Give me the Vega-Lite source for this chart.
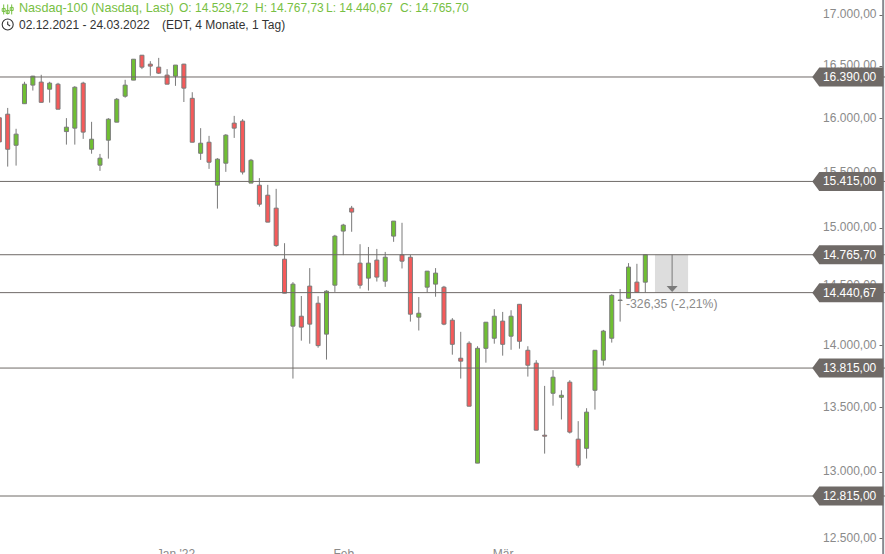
{"$schema":"https://vega.github.io/schema/vega-lite/v6.json","width":885,"height":554,"padding":0,"autosize":{"type":"none"},"background":"#ffffff","config":{"view":{"stroke":null},"text":{"font":"Liberation Sans"},"axis":{"labelFont":"Liberation Sans"}},
"datasets":{"candles":[
{"i":0,"date":"2021-12-02","o":16002,"h":16002,"l":15777,"c":15777},
{"i":1,"date":"2021-12-03","o":16036,"h":16095,"l":15550,"c":15709},
{"i":2,"date":"2021-12-06","o":15746,"h":15899,"l":15559,"c":15849},
{"i":3,"date":"2021-12-07","o":16135,"h":16344,"l":16135,"c":16321},
{"i":4,"date":"2021-12-08","o":16312,"h":16401,"l":16260,"c":16398},
{"i":5,"date":"2021-12-09","o":16341,"h":16411,"l":16148,"c":16148},
{"i":6,"date":"2021-12-10","o":16273,"h":16344,"l":16145,"c":16331},
{"i":7,"date":"2021-12-13","o":16321,"h":16334,"l":16083,"c":16083},
{"i":8,"date":"2021-12-14","o":15873,"h":15999,"l":15752,"c":15914},
{"i":9,"date":"2021-12-15","o":15905,"h":16302,"l":15752,"c":16292},
{"i":10,"date":"2021-12-16","o":16331,"h":16344,"l":15805,"c":15868},
{"i":11,"date":"2021-12-17","o":15709,"h":15964,"l":15668,"c":15802},
{"i":12,"date":"2021-12-20","o":15563,"h":15666,"l":15511,"c":15627},
{"i":13,"date":"2021-12-21","o":15793,"h":15999,"l":15623,"c":15989},
{"i":14,"date":"2021-12-22","o":15961,"h":16189,"l":15961,"c":16177},
{"i":15,"date":"2021-12-23","o":16206,"h":16363,"l":16192,"c":16312},
{"i":16,"date":"2021-12-27","o":16360,"h":16562,"l":16360,"c":16562},
{"i":17,"date":"2021-12-28","o":16601,"h":16601,"l":16466,"c":16485},
{"i":18,"date":"2021-12-29","o":16514,"h":16543,"l":16401,"c":16495},
{"i":19,"date":"2021-12-30","o":16485,"h":16575,"l":16420,"c":16427},
{"i":20,"date":"2021-12-31","o":16408,"h":16466,"l":16321,"c":16321},
{"i":21,"date":"2022-01-03","o":16398,"h":16505,"l":16305,"c":16505},
{"i":22,"date":"2022-01-04","o":16514,"h":16517,"l":16151,"c":16283},
{"i":23,"date":"2022-01-05","o":16186,"h":16244,"l":15774,"c":15774},
{"i":24,"date":"2022-01-06","o":15672,"h":15905,"l":15611,"c":15765},
{"i":25,"date":"2022-01-07","o":15774,"h":15833,"l":15529,"c":15590},
{"i":26,"date":"2022-01-10","o":15381,"h":15627,"l":15171,"c":15618},
{"i":27,"date":"2022-01-11","o":15581,"h":15849,"l":15502,"c":15840},
{"i":28,"date":"2022-01-12","o":15952,"h":16020,"l":15814,"c":15905},
{"i":29,"date":"2022-01-13","o":15971,"h":15989,"l":15478,"c":15500},
{"i":30,"date":"2022-01-14","o":15400,"h":15620,"l":15400,"c":15608},
{"i":31,"date":"2022-01-18","o":15381,"h":15445,"l":15189,"c":15210},
{"i":32,"date":"2022-01-19","o":15291,"h":15384,"l":15051,"c":15051},
{"i":33,"date":"2022-01-20","o":15175,"h":15348,"l":14834,"c":14845},
{"i":34,"date":"2022-01-21","o":14727,"h":14866,"l":14436,"c":14436},
{"i":35,"date":"2022-01-24","o":14159,"h":14530,"l":13730,"c":14513},
{"i":36,"date":"2022-01-25","o":14242,"h":14412,"l":14039,"c":14151},
{"i":37,"date":"2022-01-26","o":14496,"h":14650,"l":14014,"c":14176},
{"i":38,"date":"2022-01-27","o":14351,"h":14410,"l":13981,"c":13998},
{"i":39,"date":"2022-01-28","o":14093,"h":14461,"l":13884,"c":14453},
{"i":40,"date":"2022-01-31","o":14504,"h":14939,"l":14447,"c":14928},
{"i":41,"date":"2022-02-01","o":14972,"h":15036,"l":14762,"c":15025},
{"i":42,"date":"2022-02-02","o":15175,"h":15195,"l":14966,"c":15140},
{"i":43,"date":"2022-02-03","o":14693,"h":14857,"l":14475,"c":14504},
{"i":44,"date":"2022-02-04","o":14564,"h":14833,"l":14458,"c":14693},
{"i":45,"date":"2022-02-07","o":14719,"h":14816,"l":14535,"c":14573},
{"i":46,"date":"2022-02-08","o":14538,"h":14790,"l":14490,"c":14744},
{"i":47,"date":"2022-02-09","o":14928,"h":15060,"l":14878,"c":15060},
{"i":48,"date":"2022-02-10","o":14764,"h":15045,"l":14647,"c":14710},
{"i":49,"date":"2022-02-11","o":14744,"h":14764,"l":14197,"c":14259},
{"i":50,"date":"2022-02-14","o":14234,"h":14403,"l":14123,"c":14267},
{"i":51,"date":"2022-02-15","o":14487,"h":14624,"l":14444,"c":14624},
{"i":52,"date":"2022-02-16","o":14513,"h":14650,"l":14406,"c":14607},
{"i":53,"date":"2022-02-17","o":14487,"h":14498,"l":14167,"c":14176},
{"i":54,"date":"2022-02-18","o":14209,"h":14226,"l":13924,"c":14009},
{"i":55,"date":"2022-02-22","o":13895,"h":14112,"l":13730,"c":13871},
{"i":56,"date":"2022-02-23","o":14018,"h":14034,"l":13509,"c":13509},
{"i":57,"date":"2022-02-24","o":13065,"h":13993,"l":13065,"c":13976},
{"i":58,"date":"2022-02-25","o":13976,"h":14192,"l":13859,"c":14192},
{"i":59,"date":"2022-02-28","o":14059,"h":14301,"l":14014,"c":14242},
{"i":60,"date":"2022-03-01","o":14201,"h":14278,"l":13916,"c":14009},
{"i":61,"date":"2022-03-02","o":14076,"h":14292,"l":13964,"c":14242},
{"i":62,"date":"2022-03-03","o":14342,"h":14342,"l":13973,"c":14034},
{"i":63,"date":"2022-03-04","o":13960,"h":13993,"l":13746,"c":13838},
{"i":64,"date":"2022-03-07","o":13855,"h":13879,"l":13320,"c":13320},
{"i":65,"date":"2022-03-08","o":13281,"h":13671,"l":13138,"c":13273},
{"i":66,"date":"2022-03-09","o":13612,"h":13798,"l":13513,"c":13741},
{"i":67,"date":"2022-03-10","o":13580,"h":13636,"l":13404,"c":13596},
{"i":68,"date":"2022-03-11","o":13701,"h":13717,"l":13294,"c":13305},
{"i":69,"date":"2022-03-14","o":13250,"h":13391,"l":13031,"c":13049},
{"i":70,"date":"2022-03-15","o":13179,"h":13493,"l":13100,"c":13462},
{"i":71,"date":"2022-03-16","o":13636,"h":13960,"l":13482,"c":13960},
{"i":72,"date":"2022-03-17","o":13879,"h":14128,"l":13835,"c":14118},
{"i":73,"date":"2022-03-18","o":14059,"h":14427,"l":14023,"c":14418},
{"i":74,"date":"2022-03-21","o":14374,"h":14471,"l":14197,"c":14378},
{"i":75,"date":"2022-03-22","o":14393,"h":14693,"l":14393,"c":14659},
{"i":76,"date":"2022-03-23","o":14530,"h":14687,"l":14444,"c":14444},
{"i":77,"date":"2022-03-24","o":14529.72,"h":14767.73,"l":14440.67,"c":14765.7}
],
"levels":[{"price":16390,"label":"16.390,00","i":100},{"price":15415,"label":"15.415,00","i":100},{"price":14765.7,"label":"14.765,70","i":100},{"price":14440.67,"label":"14.440,67","i":100},{"price":13815,"label":"13.815,00","i":100},{"price":12815,"label":"12.815,00","i":100}],
"header":[
{"i":21.42,"price":17063,"t":"O: 14.529,72","k":"a"},
{"i":30.48,"price":17063,"t":"H: 14.767,73","k":"a"},
{"i":38.94,"price":17063,"t":"L: 14.440,67","k":"a"},
{"i":47.76,"price":17063,"t":"C: 14.765,70","k":"a"},
{"i":2.35,"price":16903,"t":"02.12.2021 - 24.03.2022","k":"b"},
{"i":19.39,"price":16903,"t":"(EDT, 4 Monate, 1 Tag)","k":"b"}
]},
"layer":[
{"data":{"values":[{"i":105.35}]},"mark":{"type":"rule","color":"#868a90","strokeWidth":2},"encoding":{"x":{"field":"i","type":"quantitative","scale":{"domain":[0.0834,105.57],"nice":false,"zero":false,"padding":0},"axis":{"values":[21,41,60],"labelExpr":"datum.value==21?\"Jan '22\":(datum.value==41?'Feb':'Mär')","title":null,"domain":false,"ticks":false,"grid":false,"labelColor":"#8a8a8a","labelFontSize":12,"labelPadding":0,"offset":-6,"labelOverlap":false,"labelFlush":false}}}},
{"data":{"values":[{"i":78.15,"i2":82.1,"a":14765.7,"b":14440.67}]},"mark":{"type":"rect","color":"#dddddd"},"encoding":{"x":{"field":"i","type":"quantitative"},"x2":{"field":"i2"},"y":{"field":"a","type":"quantitative"},"y2":{"field":"b"}}},
{"data":{"values":[{"i":80.2,"a":14765.7,"b":14470}]},"mark":{"type":"rule","color":"#9a9a9a","strokeWidth":1.5},"encoding":{"x":{"field":"i","type":"quantitative"},"y":{"field":"a","type":"quantitative"},"y2":{"field":"b"}}},
{"data":{"values":[{"i":80.2,"a":14472}]},"mark":{"type":"point","shape":"M-5.5,-3L5.5,-3L0,3Z","size":4,"filled":true,"opacity":1,"color":"#7a7a7a"},"encoding":{"x":{"field":"i","type":"quantitative"},"y":{"field":"a","type":"quantitative"}}},
{"data":{"name":"candles"},"mark":{"type":"rule","color":"#7a7a7a","strokeWidth":1},"encoding":{"x":{"field":"i","type":"quantitative"},"y":{"field":"h","type":"quantitative","scale":{"type":"log","domain":[12386,17148],"nice":false,"zero":false},"axis":{"orient":"left","offset":-883,"values":[12500,13000,13500,14000,14500,15000,15500,16000,16500,17000],"labelExpr":"replace(replace(replace(format(datum.value,',.2f'),',','#'),'.',','),'#','.')","title":null,"domain":false,"grid":false,"tickSize":4,"tickColor":"#6f6a67","labelColor":"#8a8a8a","labelFontSize":12,"labelPadding":3,"labelOffset":-1,"labelOverlap":false}},"y2":{"field":"l"}}},
{"data":{"name":"candles"},"mark":{"type":"bar","size":4,"stroke":"#7a7a7a","strokeWidth":1},"encoding":{"x":{"field":"i","type":"quantitative"},"y":{"field":"o","type":"quantitative"},"y2":{"field":"c"},"fill":{"condition":{"test":"datum.c>=datum.o","value":"#6fbf32"},"value":"#f65a5a"}}},
{"data":{"name":"levels"},"mark":{"type":"rule","color":"#6f6a67","strokeWidth":1},"encoding":{"y":{"field":"price","type":"quantitative"}}},
{"data":{"name":"levels"},"mark":{"type":"point","shape":"M-26,0L-19,-9.5L45,-9.5L45,9.5L-19,9.5Z","size":4,"filled":true,"opacity":1,"color":"#6f6a67","strokeWidth":0},"encoding":{"x":{"field":"i","type":"quantitative"},"y":{"field":"price","type":"quantitative"}}},
{"data":{"name":"levels"},"mark":{"type":"text","align":"right","baseline":"middle","dx":38,"color":"#ffffff","fontSize":12,"font":"Liberation Sans"},"encoding":{"x":{"field":"i","type":"quantitative"},"y":{"field":"price","type":"quantitative"},"text":{"field":"label"}}},
{"data":{"name":"header"},"mark":{"type":"text","align":"left","baseline":"middle","fontSize":12,"font":"Liberation Sans"},"encoding":{"x":{"field":"i","type":"quantitative"},"y":{"field":"price","type":"quantitative"},"text":{"field":"t"},"color":{"field":"k","type":"nominal","legend":null,"scale":{"domain":["a","b"],"range":["#77c043","#333333"]}}}},
{"data":{"values":[{"i":2.35,"price":17063,"t":"Nasdaq-100 (Nasdaq, Last)"}]},"mark":{"type":"text","align":"left","baseline":"middle","fontSize":12.6,"color":"#77c043","font":"Liberation Sans"},"encoding":{"x":{"field":"i","type":"quantitative"},"y":{"field":"price","type":"quantitative"},"text":{"field":"t"}}},
{"data":{"values":[{"i":1.0,"price":17053}]},"mark":{"type":"point","shape":"M-4,-5V5M-5.5,-1h3v3h-3zM0,-5V5M-1.5,1h3v3h-3zM4,-5V5M2.5,-2h3v3h-3z","size":4,"filled":false,"opacity":1,"color":"#77c043","strokeWidth":1},"encoding":{"x":{"field":"i","type":"quantitative"},"y":{"field":"price","type":"quantitative"}}},
{"data":{"values":[{"i":1.0,"price":16903}]},"mark":{"type":"point","shape":"M-5.5,0A5.5,5.5 0 1,1 5.5,0A5.5,5.5 0 1,1 -5.5,0M0,-3V0L2.5,1.5","size":4,"filled":false,"opacity":1,"color":"#333333","strokeWidth":1.1},"encoding":{"x":{"field":"i","type":"quantitative"},"y":{"field":"price","type":"quantitative"}}},
{"data":{"values":[{"i":74.7,"price":14345,"t":"-326,35 (-2,21%)"}]},"mark":{"type":"text","align":"left","baseline":"middle","fontSize":12.2,"color":"#8a8a8a","font":"Liberation Sans"},"encoding":{"x":{"field":"i","type":"quantitative"},"y":{"field":"price","type":"quantitative"},"text":{"field":"t"}}}
]}
